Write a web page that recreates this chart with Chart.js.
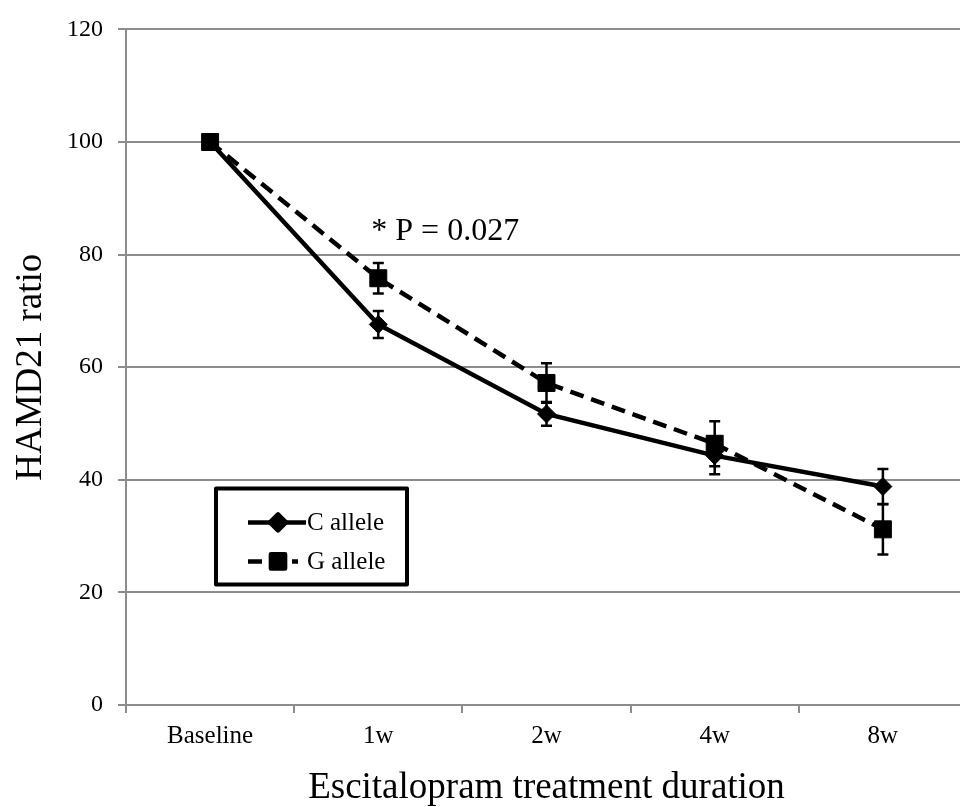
<!DOCTYPE html>
<html>
<head>
<meta charset="utf-8">
<script src="https://cdn.jsdelivr.net/npm/chart.js@4/dist/chart.umd.min.js"></script>
<style>
html, body { margin: 0; padding: 0; background: #fff; overflow: hidden; }
#wrap { width: 980px; height: 807px; }
</style>
</head>
<body>
<div id="wrap"><canvas id="hamdChart" width="980" height="807"></canvas></div>
<script>
var weeks = ['Baseline', '1w', '2w', '4w', '8w'];
var cAllele = [100, 67.6, 51.7, 44.3, 38.8];
var gAllele = [100, 75.8, 57.2, 46.4, 31.2];
var cAlleleErr = [0, 2.4, 2.1, 3.3, 3.1];
var gAlleleErr = [0, 2.7, 3.5, 4.0, 4.45];
var yTicks = [0, 20, 40, 60, 80, 100, 120];
var seriesNames = ['C allele', 'G allele'];
var note = '* P = 0.027';

var serif = '"Liberation Serif", "Times New Roman", serif';
var gridGray = '#8c8c8c';

// error bars, drawn under the markers
var errorBars = {
    id: 'errorBars',
    beforeDatasetsDraw: function(chart) {
        var ctx = chart.ctx;
        var x = chart.scales.x, y = chart.scales.y;
        var errs = [cAlleleErr, gAlleleErr];
        ctx.save();
        ctx.strokeStyle = '#000';
        ctx.lineWidth = 2.5;
        chart.data.datasets.forEach(function(ds, i) {
            ds.data.forEach(function(v, j) {
                var e = errs[i][j];
                if (!e) return;
                var px = x.getPixelForValue(j);
                var top = y.getPixelForValue(v + e);
                var bot = y.getPixelForValue(v - e);
                ctx.beginPath();
                ctx.moveTo(px, top); ctx.lineTo(px, bot);
                ctx.moveTo(px - 5.5, top); ctx.lineTo(px + 5.5, top);
                ctx.moveTo(px - 5.5, bot); ctx.lineTo(px + 5.5, bot);
                ctx.stroke();
            });
        });
        ctx.restore();
    }
};

// boxed legend inside the plot + p-value note
var boxLegend = {
    id: 'boxLegend',
    afterDatasetsDraw: function(chart) {
        var ctx = chart.ctx;
        var a = chart.chartArea;
        var x = chart.scales.x, y = chart.scales.y;

        ctx.save();
        ctx.fillStyle = '#000';
        ctx.font = '32px ' + serif;
        ctx.textBaseline = 'middle';
        ctx.textAlign = 'left';
        ctx.fillText(note, x.getPixelForValue(1) - 7, y.getPixelForValue(84));

        var bx = a.left + 90, by = a.top + 459, bw = 191, bh = 96;
        ctx.fillStyle = '#fff';
        ctx.fillRect(bx, by, bw, bh);
        ctx.strokeStyle = '#000';
        ctx.lineWidth = 4;
        ctx.lineJoin = 'round';
        ctx.strokeRect(bx, by, bw, bh);

        ctx.font = '25px ' + serif;
        chart.data.datasets.forEach(function(ds, i) {
            var ly = by + 34 + i * 39;
            var lx0 = bx + 32, lx1 = bx + (i === 0 ? 90 : 82);
            ctx.strokeStyle = '#000';
            ctx.lineWidth = ds.borderWidth;
            ctx.lineCap = 'butt';
            ctx.setLineDash(ds.borderDash || []);
            ctx.beginPath();
            ctx.moveTo(lx0, ly); ctx.lineTo(lx1, ly);
            ctx.stroke();
            ctx.setLineDash([]);
            Chart.helpers.drawPoint(ctx, {
                pointStyle: ds.pointStyle,
                radius: i === 0 ? 8 : 10,
                rotation: 0,
                borderWidth: 1
            }, bx + 62, ly);
            ctx.fillStyle = '#000';
            ctx.fill();
            ctx.fillText(ds.label, bx + 91, ly + 1);
        });
        ctx.restore();
    }
};

var ctx = document.getElementById('hamdChart').getContext('2d');
new Chart(ctx, {
    type: 'line',
    data: {
        labels: weeks,
        datasets: [{
            label: seriesNames[0],
            data: cAllele,
            borderColor: '#000',
            backgroundColor: '#000',
            borderWidth: 4.5,
            pointStyle: 'rectRot',
            pointRadius: 9,
            pointBorderWidth: 1,
            pointBackgroundColor: '#000',
            pointBorderColor: '#000',
            tension: 0
        }, {
            label: seriesNames[1],
            data: gAllele,
            borderColor: '#000',
            backgroundColor: '#000',
            borderWidth: 4.5,
            borderDash: [14, 8],
            pointStyle: 'rect',
            pointRadius: 12,
            pointBorderWidth: 1,
            pointBackgroundColor: '#000',
            pointBorderColor: '#000',
            tension: 0
        }]
    },
    options: {
        responsive: false,
        animation: false,
        layout: { padding: { left: 0, right: 8, top: 25, bottom: 0 } },
        plugins: {
            legend: { display: false },
            tooltip: { enabled: false }
        },
        scales: {
            x: {
                offset: true,
                grid: {
                    offset: true,
                    drawOnChartArea: false,
                    drawTicks: true,
                    tickLength: 8,
                    color: gridGray,
                    lineWidth: 2
                },
                border: { display: true, color: gridGray, width: 2 },
                ticks: {
                    color: '#000',
                    padding: 8,
                    maxRotation: 0,
                    font: { family: serif, size: 25 }
                },
                title: {
                    display: true,
                    text: 'Escitalopram treatment duration',
                    color: '#000',
                    padding: { top: 0, bottom: 0 },
                    font: { family: serif, size: 37, lineHeight: 1 }
                },
                afterFit: function(scale) { scale.height = 102; }
            },
            y: {
                min: 0,
                max: 120,
                afterBuildTicks: function(scale) {
                    scale.ticks = yTicks.map(function(v) { return { value: v }; });
                },
                grid: {
                    color: gridGray,
                    lineWidth: 2,
                    tickLength: 8
                },
                border: { display: true, color: gridGray, width: 2 },
                ticks: {
                    color: '#000',
                    padding: 15,
                    font: { family: serif, size: 24 }
                },
                title: {
                    display: true,
                    text: 'HAMD21 ratio',
                    color: '#000',
                    padding: { top: 13, bottom: 0 },
                    font: { family: serif, size: 37, lineHeight: 1 }
                },
                afterFit: function(scale) { scale.width = 126; }
            }
        }
    },
    plugins: [errorBars, boxLegend]
});
</script>
</body>
</html>
